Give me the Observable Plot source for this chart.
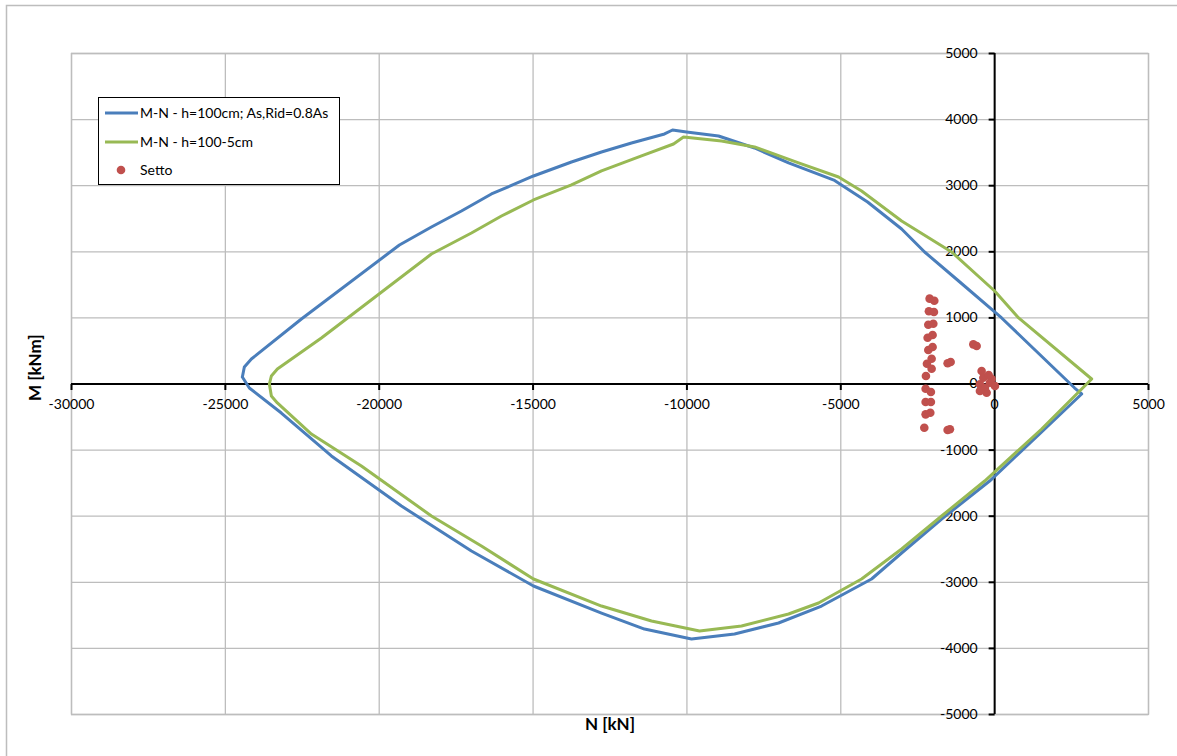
<!DOCTYPE html>
<html><head><meta charset="utf-8">
<script src="https://cdn.jsdelivr.net/npm/d3@7"></script>
<script src="https://cdn.jsdelivr.net/npm/@observablehq/plot@0.6"></script>
<style>body{margin:0;background:#fff;overflow:hidden} svg{display:block}</style>
</head><body><div id="chart"></div>
<script>
// M-N interaction domain, h=100cm; As,Rid=0.8As (N kN, M kNm)
const blueN = [-24448,-24383,-24155,-22529,-19343,-18303,-17328,-16353,-14987,-13752,-12776,-11801,-10728,-10468,-10013,-8973,-7802,-6697,-5202,-4129,-3023,-2276,-1170,228,2601,2828,
  1528,-163,-1723,-3023,-3999,-5624,-7022,-8453,-9851,-11379,-12776,-14987,-17003,-19278,-21554,-23180,-24220,-24448];
const blueM = [106,257,378,983,2103,2375,2617,2875,3147,3359,3510,3646,3783,3843,3813,3752,3571,3344,3080,2754,2345,1997,1558,999,-61,-151,
  -726,-1468,-2043,-2557,-2950,-3359,-3616,-3783,-3858,-3707,-3465,-3056,-2527,-1846,-1089,-439,-61,106];
// M-N - h=100-5cm
const greenN = [-23570,-23505,-23310,-21879,-18303,-17003,-16027,-14987,-13752,-12776,-11476,-10436,-10111,-8875,-7802,-6372,-5072,-4324,-3023,-1398,0,780,3153,
  1528,-325,-1723,-3023,-4324,-5722,-6697,-8225,-9590,-11151,-12776,-14987,-16678,-18303,-20579,-22204,-23310,-23505,-23570];
const greenM = [0,121,227,696,1967,2285,2542,2784,3011,3223,3450,3631,3737,3677,3586,3344,3132,2920,2466,1997,1407,999,76,
  -681,-1468,-1997,-2496,-2950,-3313,-3480,-3661,-3737,-3586,-3359,-2950,-2451,-1997,-1241,-757,-287,-182,0];
// Setto
const settoN = [-2113,-1961,-2136,-1973,-2156,-1993,-2178,-2016,-2156,-2016,-2200,-2048,-2233,-2048,-2243,-2071,-2243,-2071,-2243,-2091,-2286,
  -1528,-1430,-693,-585,-1528,-1453,-423,-367,-478,-315,-153,10,-260,-478,-98,-195];
const settoM = [1291,1260,1100,1089,897,912,700,741,514,560,307,383,121,231,-71,-121,-272,-272,-459,-434,-661,
  313,333,600,575,-696,-685,197,95,-5,-56,20,-30,-132,-106,76,136];
const xTicks = [-30000,-25000,-20000,-15000,-10000,-5000,0,5000];
const yTicks = [-5000,-4000,-3000,-2000,-1000,0,1000,2000,3000,4000,5000];
const seriesNames = ["M-N - h=100cm; As,Rid=0.8As","M-N - h=100-5cm","Setto"];
const colors = ["#4a7ebb","#98b954","#c0504d"];

const blue = blueN.map((n,i)=>({N:n, M:blueM[i]}));
const green = greenN.map((n,i)=>({N:n, M:greenM[i]}));
const setto = settoN.map((n,i)=>({N:n, M:settoM[i]}));

const font = "Lato, 'Open Sans', sans-serif";
const tickDown = {draw(ctx){ctx.moveTo(0,0); ctx.lineTo(0,6);}};
const tickLeft = {draw(ctx){ctx.moveTo(0,0); ctx.lineTo(-6,0);}};

const chart = Plot.plot({
  width:1177, height:756, marginLeft:71, marginRight:29, marginTop:53, marginBottom:42,
  style:{fontFamily:font, fontSize:"14px", background:"#fff", color:"#000"},
  x:{domain:[-30000,5000], axis:null},
  y:{domain:[-5000,5000], axis:null},
  marks:[
    Plot.ruleX(xTicks, {x:d=>d, stroke:"#bdbdbd", strokeWidth:1.3}),
    Plot.ruleY(yTicks, {y:d=>d, stroke:"#bdbdbd", strokeWidth:1.3}),
    Plot.frame({stroke:"#bdbdbd", strokeWidth:1.3}),
    Plot.ruleY([0], {stroke:"#000", strokeWidth:2}),
    Plot.ruleX([0], {stroke:"#000", strokeWidth:2}),
    Plot.dot(xTicks, {x:d=>d, y:0, symbol:tickDown, stroke:"#000", strokeWidth:2, fill:"none"}),
    Plot.dot(yTicks, {x:0, y:d=>d, symbol:tickLeft, stroke:"#000", strokeWidth:2, fill:"none"}),
    Plot.text(xTicks, {x:d=>d, y:0, dy:21, text:d=>String(d), fill:"#000", fontSize:14}),
    Plot.text(yTicks, {x:0, y:d=>d, dx:-17, textAnchor:"end", text:d=>String(d), fill:"#000", fontSize:14}),
    Plot.line(blue, {x:"N", y:"M", stroke:colors[0], strokeWidth:3, strokeLinejoin:"round"}),
    Plot.line(green, {x:"N", y:"M", stroke:colors[1], strokeWidth:3, strokeLinejoin:"round"}),
    Plot.dot(setto, {x:"N", y:"M", r:4.3, fill:colors[2], stroke:"none"}),
    Plot.text(["N [kN]"], {frameAnchor:"bottom", dy:15.5, fontWeight:"bold", fontSize:17, fill:"#000"}),
    Plot.text(["M [kNm]"], {frameAnchor:"left", dx:-36, dy:17, rotate:-90, fontWeight:"bold", fontSize:17, fill:"#000"})
  ]
});

const svg = d3.select(chart);
svg.append("rect").attr("x",6.5).attr("y",5.5).attr("width",1200).attr("height",800)
  .attr("fill","none").attr("stroke","#bdbdbd").attr("stroke-width",1.5);
const lg = svg.append("g").attr("text-anchor","start");
lg.append("rect").attr("x",98.5).attr("y",97.5).attr("width",241).attr("height",87)
  .attr("fill","#fff").attr("stroke","#000").attr("stroke-width",1);
const rows = [113,142,170];
seriesNames.forEach((name,i)=>{
  if (i<2) lg.append("line").attr("x1",105).attr("x2",138).attr("y1",rows[i]).attr("y2",rows[i])
    .attr("stroke",colors[i]).attr("stroke-width",3);
  else lg.append("circle").attr("cx",121).attr("cy",rows[i]).attr("r",4.3).attr("fill",colors[i]);
  lg.append("text").attr("x",140).attr("y",rows[i]).attr("dy","0.35em").attr("text-anchor","start")
    .attr("font-family",font).attr("font-size",14).attr("fill","#000").text(name);
});
document.getElementById("chart").appendChild(chart);
</script>
</body></html>
